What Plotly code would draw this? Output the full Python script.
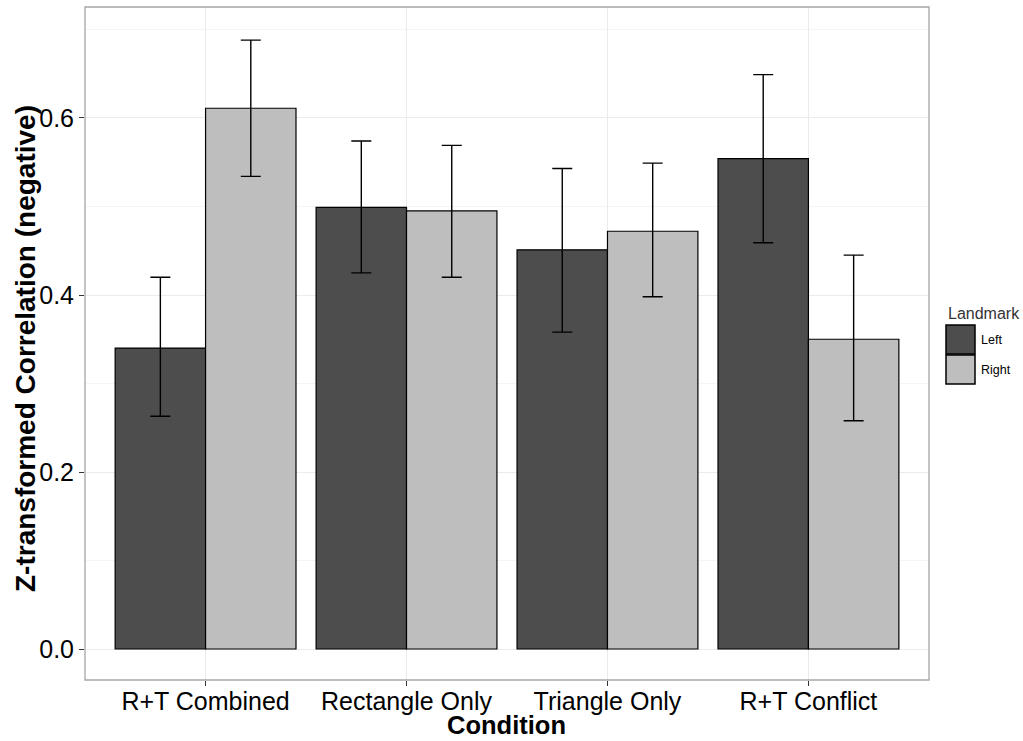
import plotly.graph_objects as go

conditions = ["R+T Combined", "Rectangle Only", "Triangle Only", "R+T Conflict"]
landmarks = ["Left", "Right"]
left_vals = [0.340, 0.499, 0.451, 0.554]
left_hi = [0.420, 0.574, 0.543, 0.649]
left_lo = [0.263, 0.425, 0.358, 0.459]
right_vals = [0.611, 0.495, 0.472, 0.350]
right_hi = [0.688, 0.569, 0.549, 0.445]
right_lo = [0.534, 0.420, 0.398, 0.258]
colors = {"Left": "#4d4d4d", "Right": "#bebebe"}

W, H = 1023, 741
L, R, T, B = 85, 929, 7, 680

fig = go.Figure()
for name, vals, hi, lo in [("Left", left_vals, left_hi, left_lo), ("Right", right_vals, right_hi, right_lo)]:
    fig.add_trace(go.Bar(
        x=conditions, y=vals, name=name, offsetgroup=name,
        marker=dict(color=colors[name], line=dict(color="black", width=1.2)),
        error_y=dict(type="data", symmetric=False,
                     array=[h - v for h, v in zip(hi, vals)],
                     arrayminus=[v - l for v, l in zip(vals, lo)],
                     color="black", thickness=1.4, width=10),
        showlegend=False,
    ))

def px(x):
    return (x - L) / (R - L)

def py(y):
    return (B - y) / (B - T)

shapes = []
annotations = []
# axis titles
annotations.append(dict(x=px(506), y=py(725), xref="paper", yref="paper", text="<b>Condition</b>",
                        showarrow=False, xanchor="center", yanchor="middle",
                        font=dict(size=25.5, color="black")))
annotations.append(dict(x=px(25), y=py(349), xref="paper", yref="paper",
                        text="<b>Z-transformed Correlation (negative)</b>", textangle=-90,
                        showarrow=False, xanchor="center", yanchor="middle",
                        font=dict(size=28, color="black")))
# legend
annotations.append(dict(x=px(946), y=py(313), xref="paper", yref="paper", text="Landmark",
                        showarrow=False, xanchor="left", yanchor="middle",
                        font=dict(size=16, color="#333333")))
for i, name in enumerate(landmarks):
    y0 = 325 + i * 30
    shapes.append(dict(type="rect", xref="paper", yref="paper",
                       x0=px(946), x1=px(975), y0=py(y0), y1=py(y0 + 29),
                       fillcolor=colors[name], line=dict(color="black", width=1.5)))
    annotations.append(dict(x=px(979), y=py(y0 + 15), xref="paper", yref="paper", text=name,
                            showarrow=False, xanchor="left", yanchor="middle",
                            font=dict(size=12.5, color="black")))
# panel border
shapes.append(dict(type="rect", xref="paper", yref="paper", x0=0, x1=1, y0=0, y1=1,
                   line=dict(color="#a6a6a6", width=1.3), layer="above"))

fig.update_layout(
    width=W, height=H,
    margin=dict(l=L, r=W - R, t=T, b=H - B),
    paper_bgcolor="white", plot_bgcolor="white",
    barmode="group", bargap=0.1, bargroupgap=0,
    font=dict(family="Liberation Sans, Arial, sans-serif", color="black"),
    shapes=shapes, annotations=annotations,
    xaxis=dict(
        range=[-0.6, 3.6], showgrid=True, gridcolor="#ebebeb", gridwidth=1,
        ticks="outside", ticklen=5, tickcolor="#333333", tickwidth=1.2,
        tickfont=dict(size=25, color="black"), zeroline=False, automargin=False,
        ticklabelstandoff=-6,
    ),
    yaxis=dict(
        range=[-0.035, 0.7254], tickvals=[0, 0.2, 0.4, 0.6], ticktext=["0.0", "0.2", "0.4", "0.6"],
        showgrid=True, gridcolor="#ebebeb", gridwidth=1.2, zeroline=False, automargin=False,
        ticks="outside", ticklen=5, tickcolor="#333333", tickwidth=1.2,
        tickfont=dict(size=25, color="black"),
        minor=dict(tickvals=[0.1, 0.3, 0.5, 0.7], showgrid=True, gridcolor="#f5f5f5", gridwidth=1, ticks=""),
    ),
)

fig.write_html("out.html")
